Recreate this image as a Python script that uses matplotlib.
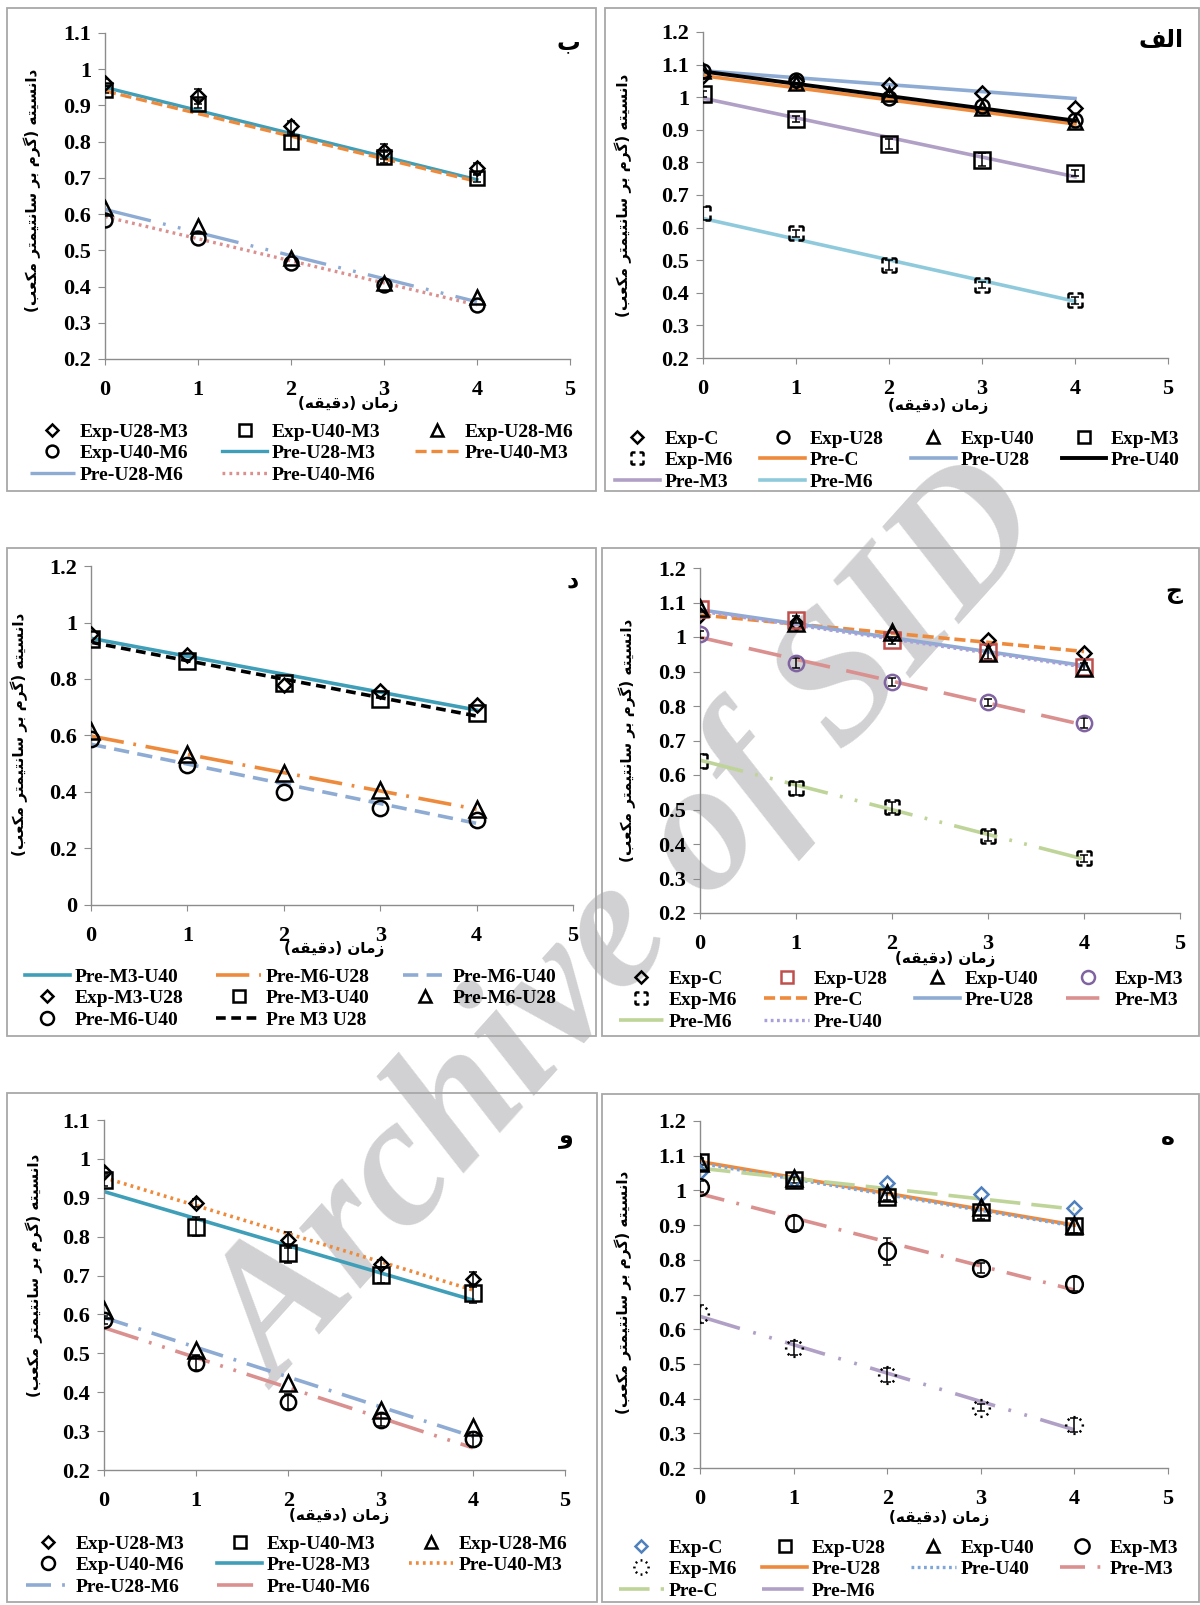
import numpy as np
import matplotlib
matplotlib.use("Agg")
import matplotlib.pyplot as plt
from matplotlib.path import Path
from matplotlib.lines import Line2D
from matplotlib.patches import Rectangle

plt.rcParams['font.family'] = ['Liberation Serif', 'DejaVu Sans']
plt.rcParams['font.weight'] = 'bold'
plt.rcParams['lines.scale_dashes'] = False

t = [0, 1, 2, 3, 4]
t_pre = [0, 4]

# panel ب
b_exp_u28_m3 = [0.963, 0.925, 0.842, 0.773, 0.727]
b_exp_u40_m3 = [0.943, 0.904, 0.800, 0.757, 0.699]
b_exp_u28_m6 = [0.616, 0.566, 0.478, 0.409, 0.370]
b_exp_u40_m6 = [0.584, 0.533, 0.464, 0.404, 0.349]
b_err_u28_m3 = [0.01, 0.02, 0.015, 0.02, 0.015]
b_err_u40_m3 = [0.01, 0.01, 0.02, 0.015, 0.01]
b_pre_u28_m3 = [0.950, 0.695]
b_pre_u40_m3 = [0.940, 0.690]
b_pre_u28_m6 = [0.613, 0.358]
b_pre_u40_m6 = [0.593, 0.349]

# panel الف
a_exp_c = [1.064, 1.050, 1.038, 1.012, 0.966]
a_exp_u28 = [1.080, 1.053, 0.999, 0.974, 0.931]
a_exp_u40 = [1.080, 1.045, 1.010, 0.966, 0.925]
a_exp_m3 = [1.010, 0.933, 0.856, 0.808, 0.767]
a_exp_m6 = [0.644, 0.582, 0.485, 0.424, 0.377]
a_err_m3 = [0.01, 0.01, 0.015, 0.02, 0.01]
a_err_m6 = [0.02, 0.01, 0.015, 0.01, 0.01]
a_pre_c = [1.066, 0.918]
a_pre_u28 = [1.081, 0.996]
a_pre_u40 = [1.079, 0.928]
a_pre_m3 = [0.997, 0.756]
a_pre_m6 = [0.628, 0.374]

# panel د
d_exp_m3_u28 = [0.958, 0.885, 0.779, 0.759, 0.708]
d_pts_m3_u40 = [0.942, 0.864, 0.785, 0.729, 0.678]
d_pts_m6_u28 = [0.616, 0.533, 0.468, 0.407, 0.339]
d_pts_m6_u40 = [0.588, 0.496, 0.401, 0.345, 0.301]
d_pre_m3_u40 = [0.944, 0.690]
d_pre_m6_u28 = [0.598, 0.339]
d_pre_m6_u40 = [0.569, 0.289]
d_pre_m3_u28 = [0.930, 0.669]

# panel ج
j_exp_c = [1.064, 1.040, 1.010, 0.990, 0.953]
j_exp_u28 = [1.082, 1.050, 0.990, 0.956, 0.914]
j_exp_u40 = [1.084, 1.040, 1.015, 0.955, 0.910]
j_exp_m3 = [1.008, 0.924, 0.869, 0.811, 0.750]
j_exp_m6 = [0.640, 0.561, 0.506, 0.424, 0.358]
j_err_u28 = [0.01, 0.01, 0.01, 0.02, 0.01]
j_err_m3 = [0.01, 0.015, 0.012, 0.01, 0.015]
j_err_m6 = [0.02, 0.02, 0.015, 0.015, 0.01]
j_pre_c = [1.064, 0.958]
j_pre_u28 = [1.079, 0.917]
j_pre_u40 = [1.075, 0.913]
j_pre_m3 = [0.999, 0.745]
j_pre_m6 = [0.643, 0.356]

# panel و
v_exp_u28_m3 = [0.967, 0.887, 0.791, 0.731, 0.690]
v_exp_u40_m3 = [0.946, 0.826, 0.757, 0.701, 0.654]
v_exp_u28_m6 = [0.611, 0.508, 0.423, 0.354, 0.310]
v_exp_u40_m6 = [0.586, 0.476, 0.376, 0.329, 0.279]
v_err_u28_m3 = [0.01, 0.01, 0.02, 0.01, 0.02]
v_err_u40_m3 = [0.015, 0.025, 0.025, 0.02, 0.025]
v_err_u40_m6 = [0.01, 0.02, 0.02, 0.015, 0.02]
v_pre_u28_m3 = [0.916, 0.637]
v_pre_u40_m3 = [0.952, 0.663]
v_pre_u28_m6 = [0.592, 0.286]
v_pre_u40_m6 = [0.566, 0.257]

# panel ه
h_exp_c = [1.054, 1.030, 1.020, 0.990, 0.949]
h_exp_u28 = [1.083, 1.030, 0.982, 0.939, 0.896]
h_exp_u40 = [1.078, 1.035, 0.992, 0.953, 0.900]
h_exp_m3 = [1.011, 0.905, 0.824, 0.776, 0.731]
h_exp_m6 = [0.644, 0.545, 0.469, 0.373, 0.325]
h_err_u28 = [0.01, 0.01, 0.01, 0.02, 0.02]
h_err_m3 = [0.015, 0.02, 0.04, 0.015, 0.02]
h_err_m6 = [0.025, 0.02, 0.02, 0.01, 0.02]
h_pre_u28 = [1.083, 0.900]
h_pre_u40 = [1.078, 0.897]
h_pre_m3 = [0.990, 0.713]
h_pre_c = [1.064, 0.946]
h_pre_m6 = [0.637, 0.310]

x_label = 'زمان (دقیقه)'
y_label = 'دانسیته (گرم بر سانتیمتر مکعب)'


def fa(text):
    # matplotlib has no arabic shaping, so pick contextual forms by hand and reverse
    forms = {
        'ا': ('\uFE8D', '\uFE8E', None, None),
        'ب': ('\uFE8F', '\uFE90', '\uFE91', '\uFE92'),
        'ت': ('\uFE95', '\uFE96', '\uFE97', '\uFE98'),
        'ج': ('\uFE9D', '\uFE9E', '\uFE9F', '\uFEA0'),
        'د': ('\uFEA9', '\uFEAA', None, None),
        'ر': ('\uFEAD', '\uFEAE', None, None),
        'ز': ('\uFEAF', '\uFEB0', None, None),
        'س': ('\uFEB1', '\uFEB2', '\uFEB3', '\uFEB4'),
        'ع': ('\uFEC9', '\uFECA', '\uFECB', '\uFECC'),
        'ف': ('\uFED1', '\uFED2', '\uFED3', '\uFED4'),
        'ق': ('\uFED5', '\uFED6', '\uFED7', '\uFED8'),
        'ل': ('\uFEDD', '\uFEDE', '\uFEDF', '\uFEE0'),
        'م': ('\uFEE1', '\uFEE2', '\uFEE3', '\uFEE4'),
        'ن': ('\uFEE5', '\uFEE6', '\uFEE7', '\uFEE8'),
        'ه': ('\uFEE9', '\uFEEA', '\uFEEB', '\uFEEC'),
        'و': ('\uFEED', '\uFEEE', None, None),
        'ی': ('\uFBFC', '\uFBFD', '\uFBFE', '\uFBFF'),
        'ک': ('\uFB8E', '\uFB8F', '\uFB90', '\uFB91'),
        'گ': ('\uFB92', '\uFB93', '\uFB94', '\uFB95'),
    }
    out = []
    for i, ch in enumerate(text):
        if ch not in forms:
            out.append(ch)
            continue
        prev = text[i - 1] if i > 0 else ''
        nxt = text[i + 1] if i + 1 < len(text) else ''
        jp = prev in forms and forms[prev][2] is not None
        jn = nxt in forms and forms[ch][2] is not None
        iso, fin, ini, med = forms[ch]
        out.append(med if (jp and jn) else fin if jp else ini if jn else iso)
    mirror = {'(': ')', ')': '('}
    return ''.join(mirror.get(c, c) for c in reversed(out))


# dashed square and dotted circle markers used for Exp-M6
v, c = [], []
for (x0, y0), (x1, y1) in [((-1, 1), (1, 1)), ((1, 1), (1, -1)), ((1, -1), (-1, -1)), ((-1, -1), (-1, 1))]:
    for a, b in [(0, 0.35), (0.65, 1)]:
        v += [(x0 + (x1 - x0) * a, y0 + (y1 - y0) * a), (x0 + (x1 - x0) * b, y0 + (y1 - y0) * b)]
        c += [Path.MOVETO, Path.LINETO]
dash_square = Path(v, c)
v, c = [], []
for k in range(8):
    a0 = k * np.pi / 4
    v += [(np.cos(a0 - 0.13), np.sin(a0 - 0.13)), (np.cos(a0 + 0.13), np.sin(a0 + 0.13))]
    c += [Path.MOVETO, Path.LINETO]
dot_circle = Path(v, c)

TEAL = '#3f9fb8'
ORANGE = '#ee8a3c'
LBLUE = '#8eabd4'
PINK = '#d9908e'
PURPLE = '#b1a0c6'
GREEN = '#bfd498'
CYAN = '#8ecadb'

# exp: (label, y, yerr, marker, ms, color)   pre: (label, y, color, dashes, lw)
panels = [
    dict(box=(7, 8, 596, 491), ax=(105, 33, 570, 359), ylim=(0.2, 1.1), yticks=[0.2, 0.3, 0.4, 0.5, 0.6, 0.7, 0.8, 0.9, 1, 1.1],
         letter='ب', letter_xy=(568, 42), ylab=(32, 190), xlab=(348, 404), leg=(30, 423), ncol=3, colsp=1.75,
         exp=[('Exp-U28-M3', b_exp_u28_m3, b_err_u28_m3, 'D', 7.5, 'k'),
              ('Exp-U40-M3', b_exp_u40_m3, b_err_u40_m3, 's', 10, 'k'),
              ('Exp-U28-M6', b_exp_u28_m6, None, '^', 10, 'k'),
              ('Exp-U40-M6', b_exp_u40_m6, None, 'o', 10, 'k')],
         pre=[('Pre-U28-M3', b_pre_u28_m3, TEAL, None, 2.4),
              ('Pre-U40-M3', b_pre_u40_m3, ORANGE, (8, 3.5), 2.4),
              ('Pre-U28-M6', b_pre_u28_m6, LBLUE, (34, 9, 2, 9, 2, 9), 2.4),
              ('Pre-U40-M6', b_pre_u40_m6, PINK, (2, 3), 2.4)],
         order=['e0', 'e1', 'e2', 'e3', 'p0', 'p1', 'p2', 'p3']),
    dict(box=(605, 8, 1199, 491), ax=(703, 32, 1168, 358), ylim=(0.2, 1.2), yticks=[0.2, 0.3, 0.4, 0.5, 0.6, 0.7, 0.8, 0.9, 1, 1.1, 1.2],
         letter='الف', letter_xy=(1161, 40), ylab=(623, 195), xlab=(938, 406), leg=(615, 430), ncol=4, colsp=1.4,
         exp=[('Exp-C', a_exp_c, None, 'D', 7.5, 'k'),
              ('Exp-U28', a_exp_u28, None, 'o', 10, 'k'),
              ('Exp-U40', a_exp_u40, None, '^', 10, 'k'),
              ('Exp-M3', a_exp_m3, a_err_m3, 's', 11, 'k'),
              ('Exp-M6', a_exp_m6, a_err_m6, dash_square, 10, 'k')],
         pre=[('Pre-C', a_pre_c, ORANGE, None, 2.6),
              ('Pre-U28', a_pre_u28, LBLUE, None, 2.6),
              ('Pre-U40', a_pre_u40, 'k', None, 2.8),
              ('Pre-M3', a_pre_m3, PURPLE, None, 2.6),
              ('Pre-M6', a_pre_m6, CYAN, None, 2.6)],
         order=['e0', 'e1', 'e2', 'e3', 'e4', 'p0', 'p1', 'p2', 'p3', 'p4']),
    dict(box=(7, 548, 596, 1036), ax=(91, 566, 573, 905), ylim=(0, 1.2), yticks=[0, 0.2, 0.4, 0.6, 0.8, 1, 1.2],
         letter='د', letter_xy=(573, 580), ylab=(19, 734), xlab=(334, 949), leg=(25, 968), ncol=3, colsp=1.7,
         exp=[('Exp-M3-U28', d_exp_m3_u28, None, 'D', 7.5, 'k'),
              ('Pre-M3-U40', d_pts_m3_u40, None, 's', 11, 'k'),
              ('Pre-M6-U28', d_pts_m6_u28, None, '^', 11, 'k'),
              ('Pre-M6-U40', d_pts_m6_u40, None, 'o', 11, 'k')],
         pre=[('Pre-M3-U40', d_pre_m3_u40, TEAL, None, 2.6),
              ('Pre-M6-U28', d_pre_m6_u28, ORANGE, (24, 7, 2, 7), 2.6),
              ('Pre-M6-U40', d_pre_m6_u40, LBLUE, (11, 6), 2.6),
              ('Pre M3 U28', d_pre_m3_u28, 'k', (7, 4), 2.6)],
         order=['p0', 'p1', 'p2', 'e0', 'e1', 'e2', 'e3', 'p3']),
    dict(box=(602, 548, 1199, 1036), ax=(700, 568, 1180, 913), ylim=(0.2, 1.2), yticks=[0.2, 0.3, 0.4, 0.5, 0.6, 0.7, 0.8, 0.9, 1, 1.1, 1.2],
         letter='ج', letter_xy=(1174, 592), ylab=(627, 740), xlab=(945, 959), leg=(619, 970), ncol=4, colsp=1.4,
         exp=[('Exp-C', j_exp_c, None, 'D', 7.5, 'k'),
              ('Exp-U28', j_exp_u28, j_err_u28, 's', 11, '#c0504d'),
              ('Exp-U40', j_exp_u40, None, '^', 11, 'k'),
              ('Exp-M3', j_exp_m3, j_err_m3, 'o', 11, '#8064a2'),
              ('Exp-M6', j_exp_m6, j_err_m6, dash_square, 10, 'k')],
         pre=[('Pre-C', j_pre_c, ORANGE, (8, 3.5), 2.6),
              ('Pre-U28', j_pre_u28, LBLUE, None, 2.6),
              ('Pre-M3', j_pre_m3, PINK, (24, 12), 2.6),
              ('Pre-M6', j_pre_m6, GREEN, (32, 9, 2, 9, 2, 9), 2.6),
              ('Pre-U40', j_pre_u40, '#a9a0d8', (2, 2.5), 2.4)],
         order=['e0', 'e1', 'e2', 'e3', 'e4', 'p0', 'p1', 'p2', 'p3', 'p4']),
    dict(box=(7, 1093, 597, 1602), ax=(104, 1120, 565, 1470), ylim=(0.2, 1.1), yticks=[0.2, 0.3, 0.4, 0.5, 0.6, 0.7, 0.8, 0.9, 1, 1.1],
         letter='و', letter_xy=(566, 1137), ylab=(34, 1275), xlab=(339, 1516), leg=(26, 1535), ncol=3, colsp=1.7,
         exp=[('Exp-U28-M3', v_exp_u28_m3, v_err_u28_m3, 'D', 7.5, 'k'),
              ('Exp-U40-M3', v_exp_u40_m3, v_err_u40_m3, 's', 11, 'k'),
              ('Exp-U28-M6', v_exp_u28_m6, None, '^', 11, 'k'),
              ('Exp-U40-M6', v_exp_u40_m6, v_err_u40_m6, 'o', 11, 'k')],
         pre=[('Pre-U28-M3', v_pre_u28_m3, TEAL, None, 2.6),
              ('Pre-U40-M3', v_pre_u40_m3, ORANGE, (2, 3), 2.6),
              ('Pre-U28-M6', v_pre_u28_m6, LBLUE, (18, 8, 2, 8), 2.6),
              ('Pre-U40-M6', v_pre_u40_m6, PINK, (26, 8, 2, 8, 2, 8), 2.6)],
         order=['e0', 'e1', 'e2', 'e3', 'p0', 'p1', 'p2', 'p3']),
    dict(box=(602, 1094, 1199, 1602), ax=(700, 1121, 1168, 1468), ylim=(0.2, 1.2), yticks=[0.2, 0.3, 0.4, 0.5, 0.6, 0.7, 0.8, 0.9, 1, 1.1, 1.2],
         letter='ه', letter_xy=(1168, 1137), ylab=(623, 1292), xlab=(939, 1518), leg=(619, 1539), ncol=4, colsp=1.3,
         exp=[('Exp-C', h_exp_c, None, 'D', 7.5, '#4f81bd'),
              ('Exp-U28', h_exp_u28, h_err_u28, 's', 11, 'k'),
              ('Exp-U40', h_exp_u40, None, '^', 11, 'k'),
              ('Exp-M3', h_exp_m3, h_err_m3, 'o', 12, 'k'),
              ('Exp-M6', h_exp_m6, h_err_m6, dot_circle, 12, 'k')],
         pre=[('Pre-U28', h_pre_u28, ORANGE, None, 2.6),
              ('Pre-U40', h_pre_u40, '#7fa6d8', (2, 2.5), 2.4),
              ('Pre-M3', h_pre_m3, PINK, (18, 9, 2, 9), 2.6),
              ('Pre-C', h_pre_c, GREEN, (22, 8), 2.6),
              ('Pre-M6', h_pre_m6, PURPLE, (30, 10, 2, 10, 2, 10), 2.6)],
         order=['e0', 'e1', 'e2', 'e3', 'e4', 'p0', 'p1', 'p2', 'p3', 'p4']),
]

W, H = 1200, 1605
fig = plt.figure(figsize=(12, 16.05), dpi=100)
GRAY = '#8c8c8c'
fa_font = dict(family='DejaVu Sans', weight='bold')

# watermark of the source page, kept under the axes
fig.text(633 / W, 1 - 930 / H, 'Archive of SID', rotation=48, rotation_mode='anchor', ha='center', va='center',
         fontsize=134, family='Liberation Serif', style='italic', weight='bold', color='#d1d1d3', zorder=-5)

for p in panels:
    x0, y0, x1, y1 = p['box']
    fig.patches.append(Rectangle((x0 / W, 1 - y1 / H), (x1 - x0) / W, (y1 - y0) / H,
                                 transform=fig.transFigure, fill=False, ec='#a8a8a8', lw=1.3))
    l, tp, r, bt = p['ax']
    ax = fig.add_axes([l / W, 1 - bt / H, (r - l) / W, (bt - tp) / H])
    ax.patch.set_alpha(0)
    handles, labels = {}, {}
    for k, (lab, vals, color, dashes, lw) in enumerate(p['pre']):
        kw = dict(linestyle='-') if dashes is None else dict(dashes=dashes)
        ax.plot(t_pre, vals, color=color, lw=lw, zorder=2, **kw)
        handles['p%d' % k] = Line2D([], [], color=color, lw=lw, **kw)
        labels['p%d' % k] = lab
    for k, (lab, vals, err, m, ms, color) in enumerate(p['exp']):
        if err is not None:
            ax.errorbar(t, vals, yerr=err, fmt='none', ecolor='k', elinewidth=1.1, capsize=3, capthick=1.1, zorder=3)
        ax.plot(t, vals, linestyle='none', marker=m, ms=ms, mfc='none', mec=color, mew=1.8, zorder=4)
        handles['e%d' % k] = Line2D([], [], linestyle='none', marker=m, ms=ms * 0.85, mfc='none', mec=color, mew=1.8)
        labels['e%d' % k] = lab

    ax.set_xlim(0, 5)
    ax.set_xticks(range(6))
    ax.set_ylim(*p['ylim'])
    ax.set_yticks(p['yticks'])
    ax.set_yticklabels(['%g' % y for y in p['yticks']])
    for s in ['top', 'right']:
        ax.spines[s].set_visible(False)
    for s in ['left', 'bottom']:
        ax.spines[s].set_color(GRAY)
        ax.spines[s].set_linewidth(1.0)
    ax.tick_params(axis='x', direction='out', length=4, color=GRAY, pad=11, labelsize=16)
    ax.tick_params(axis='y', direction='out', length=5, color=GRAY, pad=5, labelsize=16)

    fig.text(p['letter_xy'][0] / W, 1 - p['letter_xy'][1] / H, fa(p['letter']), ha='center', va='center', fontsize=17, **fa_font)
    fig.text(p['ylab'][0] / W, 1 - p['ylab'][1] / H, fa(y_label), rotation=90, ha='center', va='center', fontsize=11, **fa_font)
    fig.text(p['xlab'][0] / W, 1 - p['xlab'][1] / H, fa(x_label), ha='center', va='center', fontsize=11, **fa_font)

    hs = [handles[k] for k in p['order']]
    ls = [labels[k] for k in p['order']]
    n = p['ncol']
    idx = [i for col in range(n) for i in range(col, len(hs), n)]
    fig.legend([hs[i] for i in idx], [ls[i] for i in idx], ncol=n, loc='upper left',
               bbox_to_anchor=(p['leg'][0] / W, 1 - p['leg'][1] / H), frameon=False,
               prop=dict(family='Liberation Serif', weight='bold', size=14),
               handlelength=2.3, handletextpad=0.25, columnspacing=p['colsp'],
               labelspacing=0.2, borderpad=0, borderaxespad=0)

fig.savefig('out.png', dpi=100, facecolor='white')
